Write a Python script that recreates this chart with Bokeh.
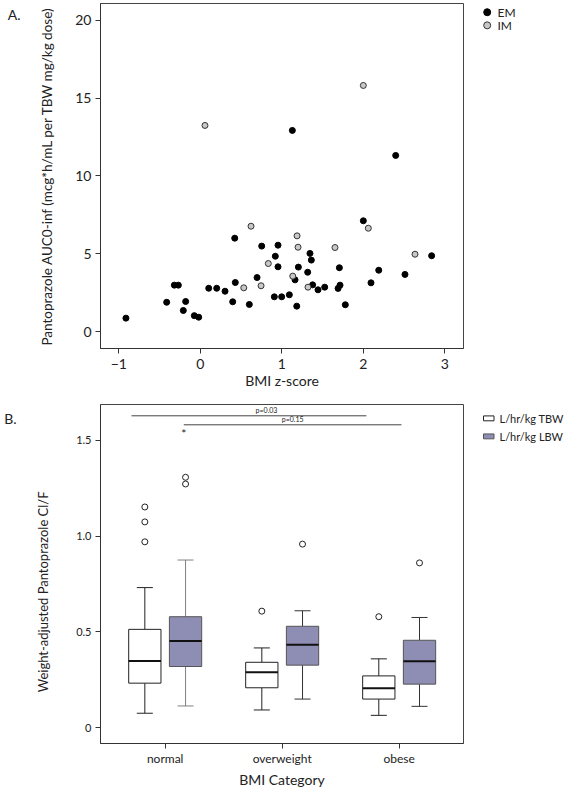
import numpy as np
from bokeh.plotting import figure
from bokeh.models import Range1d, FixedTicker, Label, CustomJSTickFormatter, LinearAxis
from bokeh.layouts import column, row
from bokeh.embed import file_html
from bokeh.resources import INLINE

# ---------------- Panel A data ----------------
em_x = [-0.913, -0.413, -0.319, -0.270, -0.209, -0.180, -0.074, -0.020, 0.103, 0.201,
        0.303, 0.397, 0.422, 0.429, 0.601, 0.696, 0.753, 0.908, 0.920, 0.953,
        0.953, 0.998, 1.092, 1.129, 1.162, 1.183, 1.203, 1.317, 1.345, 1.362,
        1.378, 1.444, 1.526, 1.690, 1.714, 1.706, 1.779, 2.000, 2.094, 2.189,
        2.397, 2.511, 2.838]
em_y = [0.86, 1.88, 2.98, 2.98, 1.35, 1.93, 1.02, 0.92, 2.78, 2.78,
        2.59, 1.91, 6.00, 3.15, 1.74, 3.47, 5.49, 2.23, 4.84, 4.16,
        5.55, 2.23, 2.36, 12.93, 3.32, 1.63, 4.14, 3.81, 5.02, 4.59,
        3.00, 2.68, 2.85, 2.77, 2.98, 4.10, 1.72, 7.12, 3.13, 3.94,
        11.32, 3.67, 4.87]
im_x = [0.057, 0.533, 0.622, 0.745, 0.834, 1.134, 1.187, 1.199, 1.321, 1.652, 2.000, 2.061, 2.634]
im_y = [13.25, 2.81, 6.77, 2.94, 4.37, 3.56, 6.15, 5.42, 2.85, 5.40, 15.82, 6.64, 4.97]
a_xticks = [-1, 0, 1, 2, 3]
a_yticks = [0, 5, 10, 15, 20]
a_series = ["EM", "IM"]

# ---------------- Panel B data ----------------
categories = ["normal", "overweight", "obese"]
b_series = ["L/hr/kg TBW", "L/hr/kg LBW"]
tbw_lower = [0.075, 0.092, 0.064]
tbw_q1 = [0.232, 0.208, 0.149]
tbw_median = [0.348, 0.289, 0.206]
tbw_q3 = [0.513, 0.341, 0.270]
tbw_upper = [0.731, 0.416, 0.359]
tbw_outliers = [[1.152, 1.074, 0.970], [0.608], [0.579]]
lbw_lower = [0.113, 0.149, 0.111]
lbw_q1 = [0.319, 0.326, 0.227]
lbw_median = [0.452, 0.433, 0.347]
lbw_q3 = [0.579, 0.529, 0.456]
lbw_upper = [0.875, 0.610, 0.575]
lbw_outliers = [[1.307, 1.272], [0.958], [0.860]]
b_yticks = [0, 0.5, 1.0, 1.5]
comp_labels = ["p=0.03", "p=0.15"]
comp_x0 = [0.712, 1.159]
comp_x1 = [2.72, 3.02]
comp_y = [1.628, 1.581]

FONT = "Lato"
TXT = "#222222"
PW = 464      # main plot width
LW = 102      # legend strip width
H = 395
EM_COL, IM_COL = "black", "#c8c8c8"
TBW_COL, LBW_COL = "white", "#8e8db4"


def style_axes(p, tick_size_x, tick_size_y):
    p.xgrid.visible = False
    p.ygrid.visible = False
    p.outline_line_color = "#444444"
    p.outline_line_width = 1
    for ax in (p.xaxis[0], p.yaxis[0]):
        ax.axis_line_color = "#333333"
        ax.major_tick_line_color = "#333333"
        ax.major_tick_out = 5
        ax.major_tick_in = 0
        ax.minor_tick_line_color = None
        ax.major_label_text_font = FONT
        ax.major_label_text_color = TXT
        ax.axis_label_text_font = FONT
        ax.axis_label_text_font_style = "normal"
        ax.axis_label_text_color = TXT
        ax.axis_label_text_font_size = "14px"
    p.xaxis[0].major_label_text_font_size = tick_size_x
    p.yaxis[0].major_label_text_font_size = tick_size_y


def letter_axis(p, ypos, text, standoff):
    ax = LinearAxis(ticker=FixedTicker(ticks=[ypos]),
                    formatter=CustomJSTickFormatter(args=dict(t=text), code="return t;"),
                    axis_line_color=None, major_tick_line_color=None, minor_tick_line_color=None,
                    major_tick_out=0, major_tick_in=0, major_label_standoff=standoff,
                    major_label_text_font=FONT, major_label_text_font_size="14px",
                    major_label_text_color=TXT)
    p.add_layout(ax, "left")


def legend_strip():
    q = figure(width=LW, height=H, output_backend="svg", toolbar_location=None,
               x_range=Range1d(0, LW), y_range=Range1d(H, 0),
               x_axis_location=None, y_axis_location=None,
               min_border_left=0, min_border_right=0, min_border_top=0, min_border_bottom=0)
    q.xgrid.visible = False
    q.ygrid.visible = False
    q.outline_line_color = None
    return q


# ================= Panel A =================
pA = figure(width=PW, height=H, output_backend="svg", toolbar_location=None,
            x_range=Range1d(-1.225, 3.229), y_range=Range1d(-1.093, 21.09),
            min_border_left=100, min_border_right=1, min_border_top=3, min_border_bottom=47)
style_axes(pA, "14px", "14px")
pA.xaxis[0].ticker = FixedTicker(ticks=a_xticks)
pA.yaxis[0].ticker = FixedTicker(ticks=a_yticks)
pA.xaxis[0].major_label_standoff = 5
pA.yaxis[0].major_label_standoff = 4
pA.xaxis[0].axis_label = "BMI z-score"
pA.xaxis[0].axis_label_standoff = 0
pA.yaxis[0].axis_label = "Pantoprazole AUC0-inf (mcg*h/mL per TBW mg/kg dose)"
pA.yaxis[0].axis_label_text_font_size = "13.5px"
pA.yaxis[0].axis_label_standoff = 17
letter_axis(pA, 20.39, "A.", 16)

pA.scatter(em_x, em_y, size=6, fill_color=EM_COL, line_color="black")
pA.scatter(im_x, im_y, size=6, fill_color=IM_COL, line_color="#333333", line_width=1)

# legend strip A (pixel coordinates inside the strip)
lA = legend_strip()
lA.scatter([22.7, 22.7], [10, 25], size=7, fill_color=[EM_COL, IM_COL], line_color=["black", "#333333"])
for i, s in enumerate(a_series):
    lA.add_layout(Label(x=33, y=10 + 15 * i, text=s, text_font=FONT, text_font_size="12px",
                        text_color=TXT, text_align="left", text_baseline="middle"))

# ================= Panel B =================
pB = figure(width=PW, height=H, output_backend="svg", toolbar_location=None,
            x_range=Range1d(0.447, 3.55), y_range=Range1d(-0.083, 1.687),
            min_border_left=100, min_border_right=1, min_border_top=9, min_border_bottom=45)
style_axes(pB, "12px", "11px")
xc = np.arange(1, len(categories) + 1)
pB.xaxis[0].ticker = FixedTicker(ticks=list(xc))
pB.xaxis[0].formatter = CustomJSTickFormatter(args=dict(labels=categories),
                                              code="return labels[Math.round(tick) - 1];")
pB.yaxis[0].ticker = FixedTicker(ticks=b_yticks)
pB.yaxis[0].formatter = CustomJSTickFormatter(code="return tick == 0 ? '0' : tick.toFixed(1);")
pB.xaxis[0].major_label_standoff = 2
pB.yaxis[0].major_label_standoff = 4
pB.xaxis[0].axis_label = "BMI Category"
pB.xaxis[0].axis_label_standoff = 2
pB.yaxis[0].axis_label = "Weight-adjusted Pantoprazole Cl/F\u2003\u2003\u2003\u2002"
pB.yaxis[0].axis_label_text_font_size = "13px"
pB.yaxis[0].axis_label_standoff = 22
letter_axis(pB, 1.614, "B.", 16)

off = 0.174
bw = 0.276
cw = 0.137


def draw_boxes(xpos, lower, q1, med, q3, upper, outl, fill, line, wcolors):
    for i, x in enumerate(xpos):
        pB.segment([x, x], [q3[i], q1[i]], [x, x], [upper[i], lower[i]], line_color=wcolors[i], line_width=1)
        pB.segment([x - cw / 2, x - cw / 2], [upper[i], lower[i]], [x + cw / 2, x + cw / 2], [upper[i], lower[i]],
                   line_color=wcolors[i], line_width=1)
    pB.quad(left=list(xpos - bw / 2), right=list(xpos + bw / 2), bottom=q1, top=q3,
            fill_color=fill, line_color=line, line_width=1)
    pB.segment(list(xpos - bw / 2), med, list(xpos + bw / 2), med, line_color="#111111", line_width=2)
    ox, oy = [], []
    for i, x in enumerate(xpos):
        for v in outl[i]:
            ox.append(x)
            oy.append(v)
    pB.scatter(ox, oy, size=6, fill_color="white", line_color="#222222", line_width=1)


draw_boxes(xc - off, tbw_lower, tbw_q1, tbw_median, tbw_q3, tbw_upper, tbw_outliers,
           TBW_COL, "#222222", ["#222222"] * 3)
draw_boxes(xc + off, lbw_lower, lbw_q1, lbw_median, lbw_q3, lbw_upper, lbw_outliers,
           LBW_COL, "#555555", ["#808080", "#333333", "#333333"])

pB.segment(comp_x0, comp_y, comp_x1, comp_y, line_color="#444444", line_width=1)
for i, lab in enumerate(comp_labels):
    pB.add_layout(Label(x=(comp_x0[i] + comp_x1[i]) / 2 + (0.15 if i == 0 else 0.0), y=comp_y[i] + 0.012,
                        text=lab, text_font=FONT, text_font_size="7px", text_color=TXT,
                        text_align="center", text_baseline="bottom"))
pB.add_layout(Label(x=comp_x0[1], y=comp_y[1] - 0.005, text="*", text_font=FONT, text_font_size="12px",
                    text_color=TXT, text_align="center", text_baseline="top"))

# legend strip B
lB = legend_strip()
lB.quad(left=[19, 19], right=[29.5, 29.5], top=[13.3, 34.3], bottom=[19, 40],
        fill_color=[TBW_COL, LBW_COL], line_color=["#222222", "#555555"], line_width=1)
for i, s in enumerate(b_series):
    lB.add_layout(Label(x=35, y=16 + 21 * i, text=s, text_font=FONT, text_font_size="11px",
                        text_color=TXT, text_align="left", text_baseline="middle"))

root = column(row(pA, lA), row(pB, lB))
open("out.html", "w").write(file_html(root, INLINE))
